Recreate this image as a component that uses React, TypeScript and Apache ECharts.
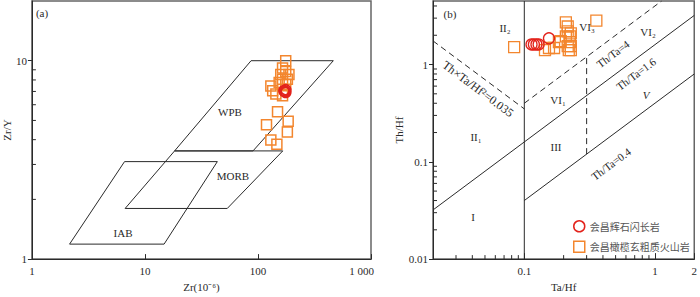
import React, { useEffect, useRef } from "react";
import * as echarts from "echarts";

// ---- Data (a): Zr vs Zr/Y ----
const leftSquares: [number, number][] = [
  [176, 10.0], [165, 9.2], [176, 8.83], [188, 8.53], [159, 8.53], [182, 8.06],
  [165, 8.06], [154, 7.77], [130, 7.45], [135, 7.06], [144, 6.8], [176, 7.62],
  [165, 6.65], [149, 5.53], [119, 4.76], [185, 4.95], [182, 4.37], [130, 3.99],
  [147, 3.79],
];
const leftCircles: [number, number][] = [
  [170, 7.06], [176, 6.93], [176, 7.14], [172.5, 7.0],
];
const wpbField: [number, number][] = [[18.3, 3.51], [90.4, 3.51], [464, 10], [86.9, 10], [18.3, 3.51]];
const morbField: [number, number][] = [[6.68, 1.8], [53.5, 1.8], [165.7, 3.51], [18.3, 3.51], [6.68, 1.8]];
const iabField: [number, number][] = [[2.154, 1.19], [14.77, 1.19], [43.7, 3.1], [6.6, 3.1], [2.154, 1.19]];
const leftYMinor: number[] = [2, 3, 4, 5, 6, 7, 8, 9];

// ---- Data (b): Ta/Hf vs Th/Hf ----
const rightSquares: [number, number][] = [
  [0.0836, 1.51], [0.144, 1.41], [0.1545, 1.48], [0.169, 1.48], [0.184, 1.7],
  [0.19, 1.74], [0.208, 2.71], [0.215, 2.46], [0.215, 2.19], [0.208, 1.95],
  [0.223, 1.95], [0.227, 2.09], [0.223, 1.7], [0.215, 1.55], [0.227, 1.55],
  [0.219, 1.41], [0.227, 1.41], [0.356, 2.83],
];
const rightCircles: [number, number][] = [
  [0.1136, 1.61], [0.1184, 1.61], [0.1239, 1.61], [0.1287, 1.61], [0.1545, 1.86],
];
const lineDivide: [number, number][] = [[0.1, 0.01], [0.1, 4.5]];
const lineThTaHf: [number, number][] = [[0.02, 1.75], [0.1, 0.35]];
const lineThTa4: [number, number][] = [[0.1, 0.4], [1.125, 4.5]];
const lineThTa16: [number, number][] = [[0.02, 0.032], [2, 3.2]];
const lineThTa04: [number, number][] = [[0.1, 0.04], [2, 0.8]];
const lineV03: [number, number][] = [[0.3, 0.12], [0.3, 1.2]];
const rightYMinor: number[] = [0.02, 0.03, 0.04, 0.05, 0.06, 0.07, 0.08, 0.09, 0.2, 0.3, 0.4, 0.5, 0.6, 0.7, 0.8, 0.9, 2, 3, 4];
const rightXMinor: number[] = [0.03, 0.04, 0.05, 0.06, 0.07, 0.08, 0.09, 0.2, 0.3, 0.4, 0.5, 0.6, 0.7, 0.8, 0.9];

const SQ = "#f3862e";
const CI = "#e3231c";
const INK = "#2a2a2a";
const SERIF = "'Liberation Serif', 'Times New Roman', serif";
const CJK = "'Noto Sans CJK SC', 'Liberation Serif', serif";
const NAME_SQ = "会昌橄榄玄粗质火山岩";
const NAME_CI = "会昌辉石闪长岩";

function fmt(v: number): string {
  const r = Math.round(v * 1000) / 1000;
  return String(r);
}

export default function App() {
  const ref = useRef<HTMLDivElement>(null);
  useEffect(() => {
    if (!ref.current) return;
    const chart = echarts.init(ref.current, undefined, { renderer: "svg" });

    const labelStyle = { fontFamily: SERIF, fontSize: 11, color: INK };
    const nameStyle = { fontFamily: SERIF, fontSize: 11, color: INK };

    const polyLine = (data: [number, number][], xi: number, dashed = false) => ({
      type: "line",
      xAxisIndex: xi,
      yAxisIndex: xi,
      data,
      symbol: "none",
      silent: true,
      lineStyle: { color: INK, width: 1, type: dashed ? [6, 4] : "solid" },
      z: 2,
    });

    const yMinor = (vals: number[], xi: number, xmin: number) => ({
      type: "custom",
      xAxisIndex: xi,
      yAxisIndex: xi,
      silent: true,
      clip: false,
      data: vals.map((v) => [xmin, v]),
      renderItem: (_p: any, api: any) => {
        const p = api.coord([api.value(0), api.value(1)]);
        return {
          type: "line",
          shape: { x1: p[0], y1: p[1], x2: p[0] + 4, y2: p[1] },
          style: { stroke: INK, lineWidth: 1 },
        };
      },
      z: 3,
    });
    const xMinor = (vals: number[], xi: number, ymin: number) => ({
      type: "custom",
      xAxisIndex: xi,
      yAxisIndex: xi,
      silent: true,
      clip: false,
      data: vals.map((v) => [v, ymin]),
      renderItem: (_p: any, api: any) => {
        const p = api.coord([api.value(0), api.value(1)]);
        return {
          type: "line",
          shape: { x1: p[0], y1: p[1], x2: p[0], y2: p[1] - 4 },
          style: { stroke: INK, lineWidth: 1 },
        };
      },
      z: 3,
    });

    const txt = (text: string, x: number, y: number, extra: any = {}, rotation = 0) => ({
      type: "text",
      x,
      y,
      rotation,
      z: 10,
      style: {
        text,
        fill: INK,
        fontFamily: SERIF,
        fontSize: 11,
        align: "center",
        verticalAlign: "middle",
        ...extra,
      },
    });

    const ROT = 0.641;

    chart.setOption({
      animation: false,
      grid: [
        { left: 29, top: 1, width: 342, height: 263, show: true, borderColor: "#666", borderWidth: 1.5, backgroundColor: "transparent" },
        { left: 433, top: 1, width: 265, height: 262, show: true, borderColor: "#666", borderWidth: 1.5, backgroundColor: "transparent" },
      ],
      xAxis: [
        {
          type: "log", gridIndex: 0, min: 1, max: 1000, logBase: 10,
          axisLine: { lineStyle: { color: INK } },
          axisTick: { inside: true, length: 5, lineStyle: { color: INK } },
          splitLine: { show: false },
          axisLabel: {
            ...labelStyle, margin: 6,
            formatter: (v: number) => {
              const r = Math.round(v);
              if (r === 1000) return "{k|1 000}";
              return String(r);
            },
            rich: { k: { fontFamily: SERIF, fontSize: 11, color: INK, padding: [0, 19, 0, 0] } },
          },
          name: "Zr(10⁻⁶)", nameLocation: "middle", nameGap: 21, nameTextStyle: nameStyle,
        },
        {
          type: "log", gridIndex: 1, min: 0.02, max: 2, logBase: 10,
          axisLine: { lineStyle: { color: INK } },
          axisTick: { inside: true, length: 6, lineStyle: { color: INK } },
          splitLine: { show: false },
          axisLabel: {
            ...labelStyle, margin: 6, showMinLabel: false,
            formatter: (v: number) => (Math.abs(v - 0.02) < 1e-6 ? "" : fmt(v)),
          },
          name: "Ta/Hf", nameLocation: "middle", nameGap: 21, nameTextStyle: nameStyle,
        },
      ],
      yAxis: [
        {
          type: "log", gridIndex: 0, min: 1, max: 20, logBase: 10,
          axisLine: { lineStyle: { color: INK } },
          axisTick: { inside: false, length: 4, lineStyle: { color: INK } },
          splitLine: { show: false },
          axisLabel: {
            ...labelStyle, margin: 5, showMaxLabel: false,
            formatter: (v: number) => (Math.abs(v - 20) < 1e-6 ? "" : fmt(v)),
          },
          name: "Zr/Y", nameLocation: "middle", nameGap: 15, nameTextStyle: nameStyle,
        },
        {
          type: "log", gridIndex: 1, min: 0.01, max: 4.5, logBase: 10,
          axisLine: { lineStyle: { color: INK } },
          axisTick: { inside: false, length: 4, lineStyle: { color: INK } },
          splitLine: { show: false },
          axisLabel: {
            ...labelStyle, margin: 5, showMaxLabel: false,
            formatter: (v: number) => (Math.abs(v - 4.5) < 1e-6 ? "" : fmt(v)),
          },
          name: "Th/Hf", nameLocation: "middle", nameGap: 29, nameTextStyle: nameStyle,
        },
      ],
      legend: {
        left: 573, top: 220, orient: "vertical", itemWidth: 11, itemHeight: 11, itemGap: 8,
        padding: 0,
        textStyle: { fontFamily: CJK, fontSize: 10, color: "#555" },
        data: [
          { name: NAME_CI, icon: "circle", itemStyle: { color: "transparent", borderColor: CI, borderWidth: 1.5 } },
          { name: NAME_SQ, icon: "rect", itemStyle: { color: "transparent", borderColor: SQ, borderWidth: 1.5 } },
        ],
        selectedMode: false,
      },
      series: [
        polyLine(wpbField, 0),
        polyLine(morbField, 0),
        polyLine(iabField, 0),
        yMinor(leftYMinor, 0, 1),
        polyLine(lineDivide, 1),
        polyLine(lineThTaHf, 1, true),
        polyLine(lineThTa4, 1, true),
        polyLine(lineThTa16, 1),
        polyLine(lineThTa04, 1),
        polyLine(lineV03, 1, true),
        yMinor(rightYMinor, 1, 0.02),
        xMinor(rightXMinor, 1, 0.01),
        {
          type: "scatter", name: NAME_SQ, xAxisIndex: 0, yAxisIndex: 0, data: leftSquares,
          symbol: "rect", symbolSize: 10, z: 5,
          itemStyle: { color: "transparent", borderColor: SQ, borderWidth: 1.5, opacity: 1 },
        },
        {
          type: "scatter", name: NAME_CI, xAxisIndex: 0, yAxisIndex: 0, data: leftCircles,
          symbol: "circle", symbolSize: 10, z: 6,
          itemStyle: { color: "transparent", borderColor: CI, borderWidth: 1.8, opacity: 1 },
        },
        {
          type: "scatter", name: NAME_SQ, xAxisIndex: 1, yAxisIndex: 1, data: rightSquares,
          symbol: "rect", symbolSize: 11, z: 5,
          itemStyle: { color: "transparent", borderColor: SQ, borderWidth: 1.3, opacity: 1 },
        },
        {
          type: "scatter", name: NAME_CI, xAxisIndex: 1, yAxisIndex: 1, data: rightCircles,
          symbol: "circle", symbolSize: 11, z: 6,
          itemStyle: { color: "transparent", borderColor: CI, borderWidth: 1.3, opacity: 1 },
        },
      ],
      graphic: [
        txt("(a)", 42, 13),
        txt("WPB", 230, 112),
        txt("MORB", 233, 176),
        txt("IAB", 123, 233),
        txt("(b)", 450, 14),
        txt("II₂", 505, 28),
        txt("VI₃", 587, 27),
        txt("VI₂", 648, 32),
        txt("VI₁", 558, 100),
        txt("V", 646, 95, { fontStyle: "italic" }),
        txt("III", 556, 147),
        txt("II₁", 476, 137),
        txt("I", 473, 217),
        txt("Th×Ta/Hf²=0.035", 478, 89, { fontSize: 12 }, -ROT),
        txt("Th/Ta=4", 613, 54, {}, ROT),
        txt("Th/Ta=1.6", 636, 74, {}, ROT),
        txt("Th/Ta=0.4", 611, 164, {}, ROT),
      ],
    });
    return () => chart.dispose();
  }, []);
  return (
    <div
      ref={ref}
      style={{ position: "fixed", left: 0, top: 0, width: 700, height: 297, background: "#fff" }}
    />
  );
}
